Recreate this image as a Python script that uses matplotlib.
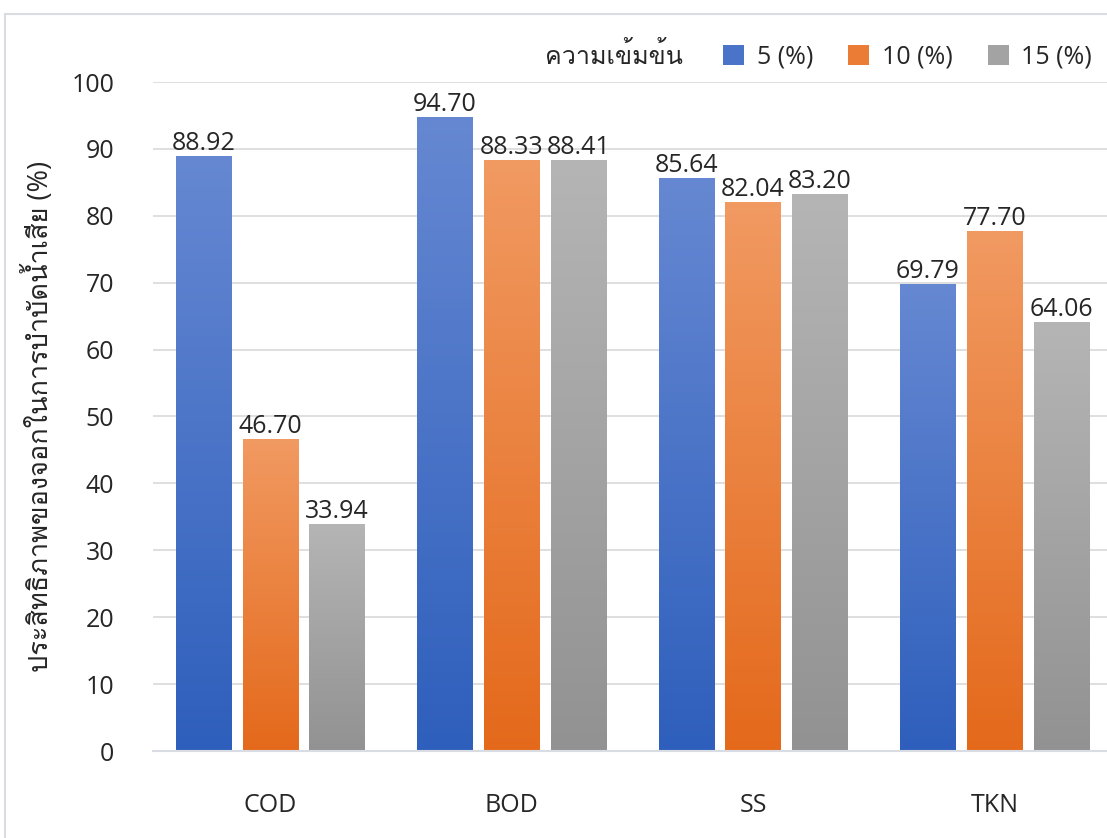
import numpy as np
import matplotlib
matplotlib.use('Agg')
import matplotlib.pyplot as plt
from matplotlib import font_manager
from matplotlib.ft2font import FT2Font
from matplotlib.patches import Rectangle
from matplotlib.colors import LinearSegmentedColormap

categories = ['COD', 'BOD', 'SS', 'TKN']
series_labels = ['5 (%)', '10 (%)', '15 (%)']
conc_5 = [88.92, 94.70, 85.64, 69.79]
conc_10 = [46.70, 88.33, 82.04, 77.70]
conc_15 = [33.94, 88.41, 83.20, 64.06]
y_ticks = list(range(0, 101, 10))
legend_title = 'ความเข้มข้น'
y_label = 'ประสิทธิภาพของจอกในการบำบัดน้ำเสีย (%)'

# top / bottom colours of each bar gradient
grad_colors = [('#6688d2', '#2e5fbc'),
               ('#f19a62', '#e4691b'),
               ('#b5b5b5', '#929292')]
legend_colors = ['#4a74c8', '#ea7c36', '#a3a3a3']


def find_thai_font():
    """Return the name of an installed font that has Thai glyphs."""
    for f in font_manager.fontManager.ttflist:
        try:
            if ord('ค') in FT2Font(f.fname).get_charmap():
                return f.name
        except Exception:
            continue
    return None


thai = find_thai_font()
fams = ['Open Sans']
if thai:
    fams.append(thai)
fams.append('DejaVu Sans')
plt.rcParams['font.family'] = fams

W, H = 1107, 838
fig = plt.figure(figsize=(W / 100, H / 100), dpi=100)
fig.patch.set_facecolor('white')

# light frame around the chart area
fig.patches.append(Rectangle((5 / W, -0.1), 1.2, 1.1 - 14 / H, transform=fig.transFigure,
                             facecolor='white', edgecolor='#d9dde3', lw=1.5, zorder=-10))

ax = fig.add_axes([153 / W, 87 / H, (W - 153) / W, (751 - 82) / H])
ax.set_facecolor('none')
ax.set_zorder(1)

x = np.arange(len(categories))
width = 0.228
offsets = [-0.277, 0.0, 0.277]
series = [conc_5, conc_10, conc_15]

for vals, off, (top, bot), lab in zip(series, offsets, grad_colors, series_labels):
    bars = ax.bar(x + off, vals, width, facecolor='none', edgecolor='none', label=lab, zorder=2)
    cmap = LinearSegmentedColormap.from_list('g', [bot, top])
    grad = np.linspace(0, 1, 256).reshape(-1, 1)
    for b, v in zip(bars, vals):
        x0 = b.get_x()
        img = ax.imshow(grad, cmap=cmap, origin='lower', aspect='auto',
                        extent=[x0, x0 + b.get_width(), 0, b.get_height()],
                        interpolation='bicubic', zorder=2)
        img.set_clip_path(b)
        ax.annotate(f'{v:.2f}', (b.get_x() + b.get_width() / 2, v),
                    xytext=(0, 0), textcoords='offset points',
                    ha='center', va='bottom', fontsize=18, color='#262626', zorder=3)

ax.set_xlim(-0.485, 3.466)
ax.set_ylim(0, 100)
ax.set_yticks(y_ticks)
ax.set_xticks(x)
ax.set_xticklabels(categories)
ax.tick_params(axis='both', length=0, labelsize=18, labelcolor='#262626')
ax.tick_params(axis='y', pad=28)
ax.tick_params(axis='x', pad=30)
ax.grid(axis='y', color='#d9d9d9', lw=1.2, zorder=0)
ax.set_axisbelow(True)
for s in ['top', 'right', 'left']:
    ax.spines[s].set_visible(False)
ax.spines['bottom'].set_color('#d9dde3')
ax.spines['bottom'].set_linewidth(1.5)

ax.set_ylabel(y_label, fontsize=19.5, color='#262626')
ax.yaxis.set_label_coords(-0.103, 0.5)

# legend with the title sitting to the left of the entries
handles = [Rectangle((0, 0), 1, 1, facecolor=c, edgecolor='none') for c in legend_colors]
leg = fig.legend(handles, series_labels, loc='center right', bbox_to_anchor=(1.0, 1 - 57 / H),
                 ncol=3, frameon=False, fontsize=18, handlelength=0.85, handleheight=0.85,
                 handletextpad=0.5, columnspacing=1.4, borderaxespad=0.2)
for t in leg.get_texts():
    t.set_color('#262626')
fig.text(683 / W, 1 - 57 / H, legend_title, ha='right', va='center', fontsize=18, color='#262626')

fig.savefig('out.png', dpi=100)
